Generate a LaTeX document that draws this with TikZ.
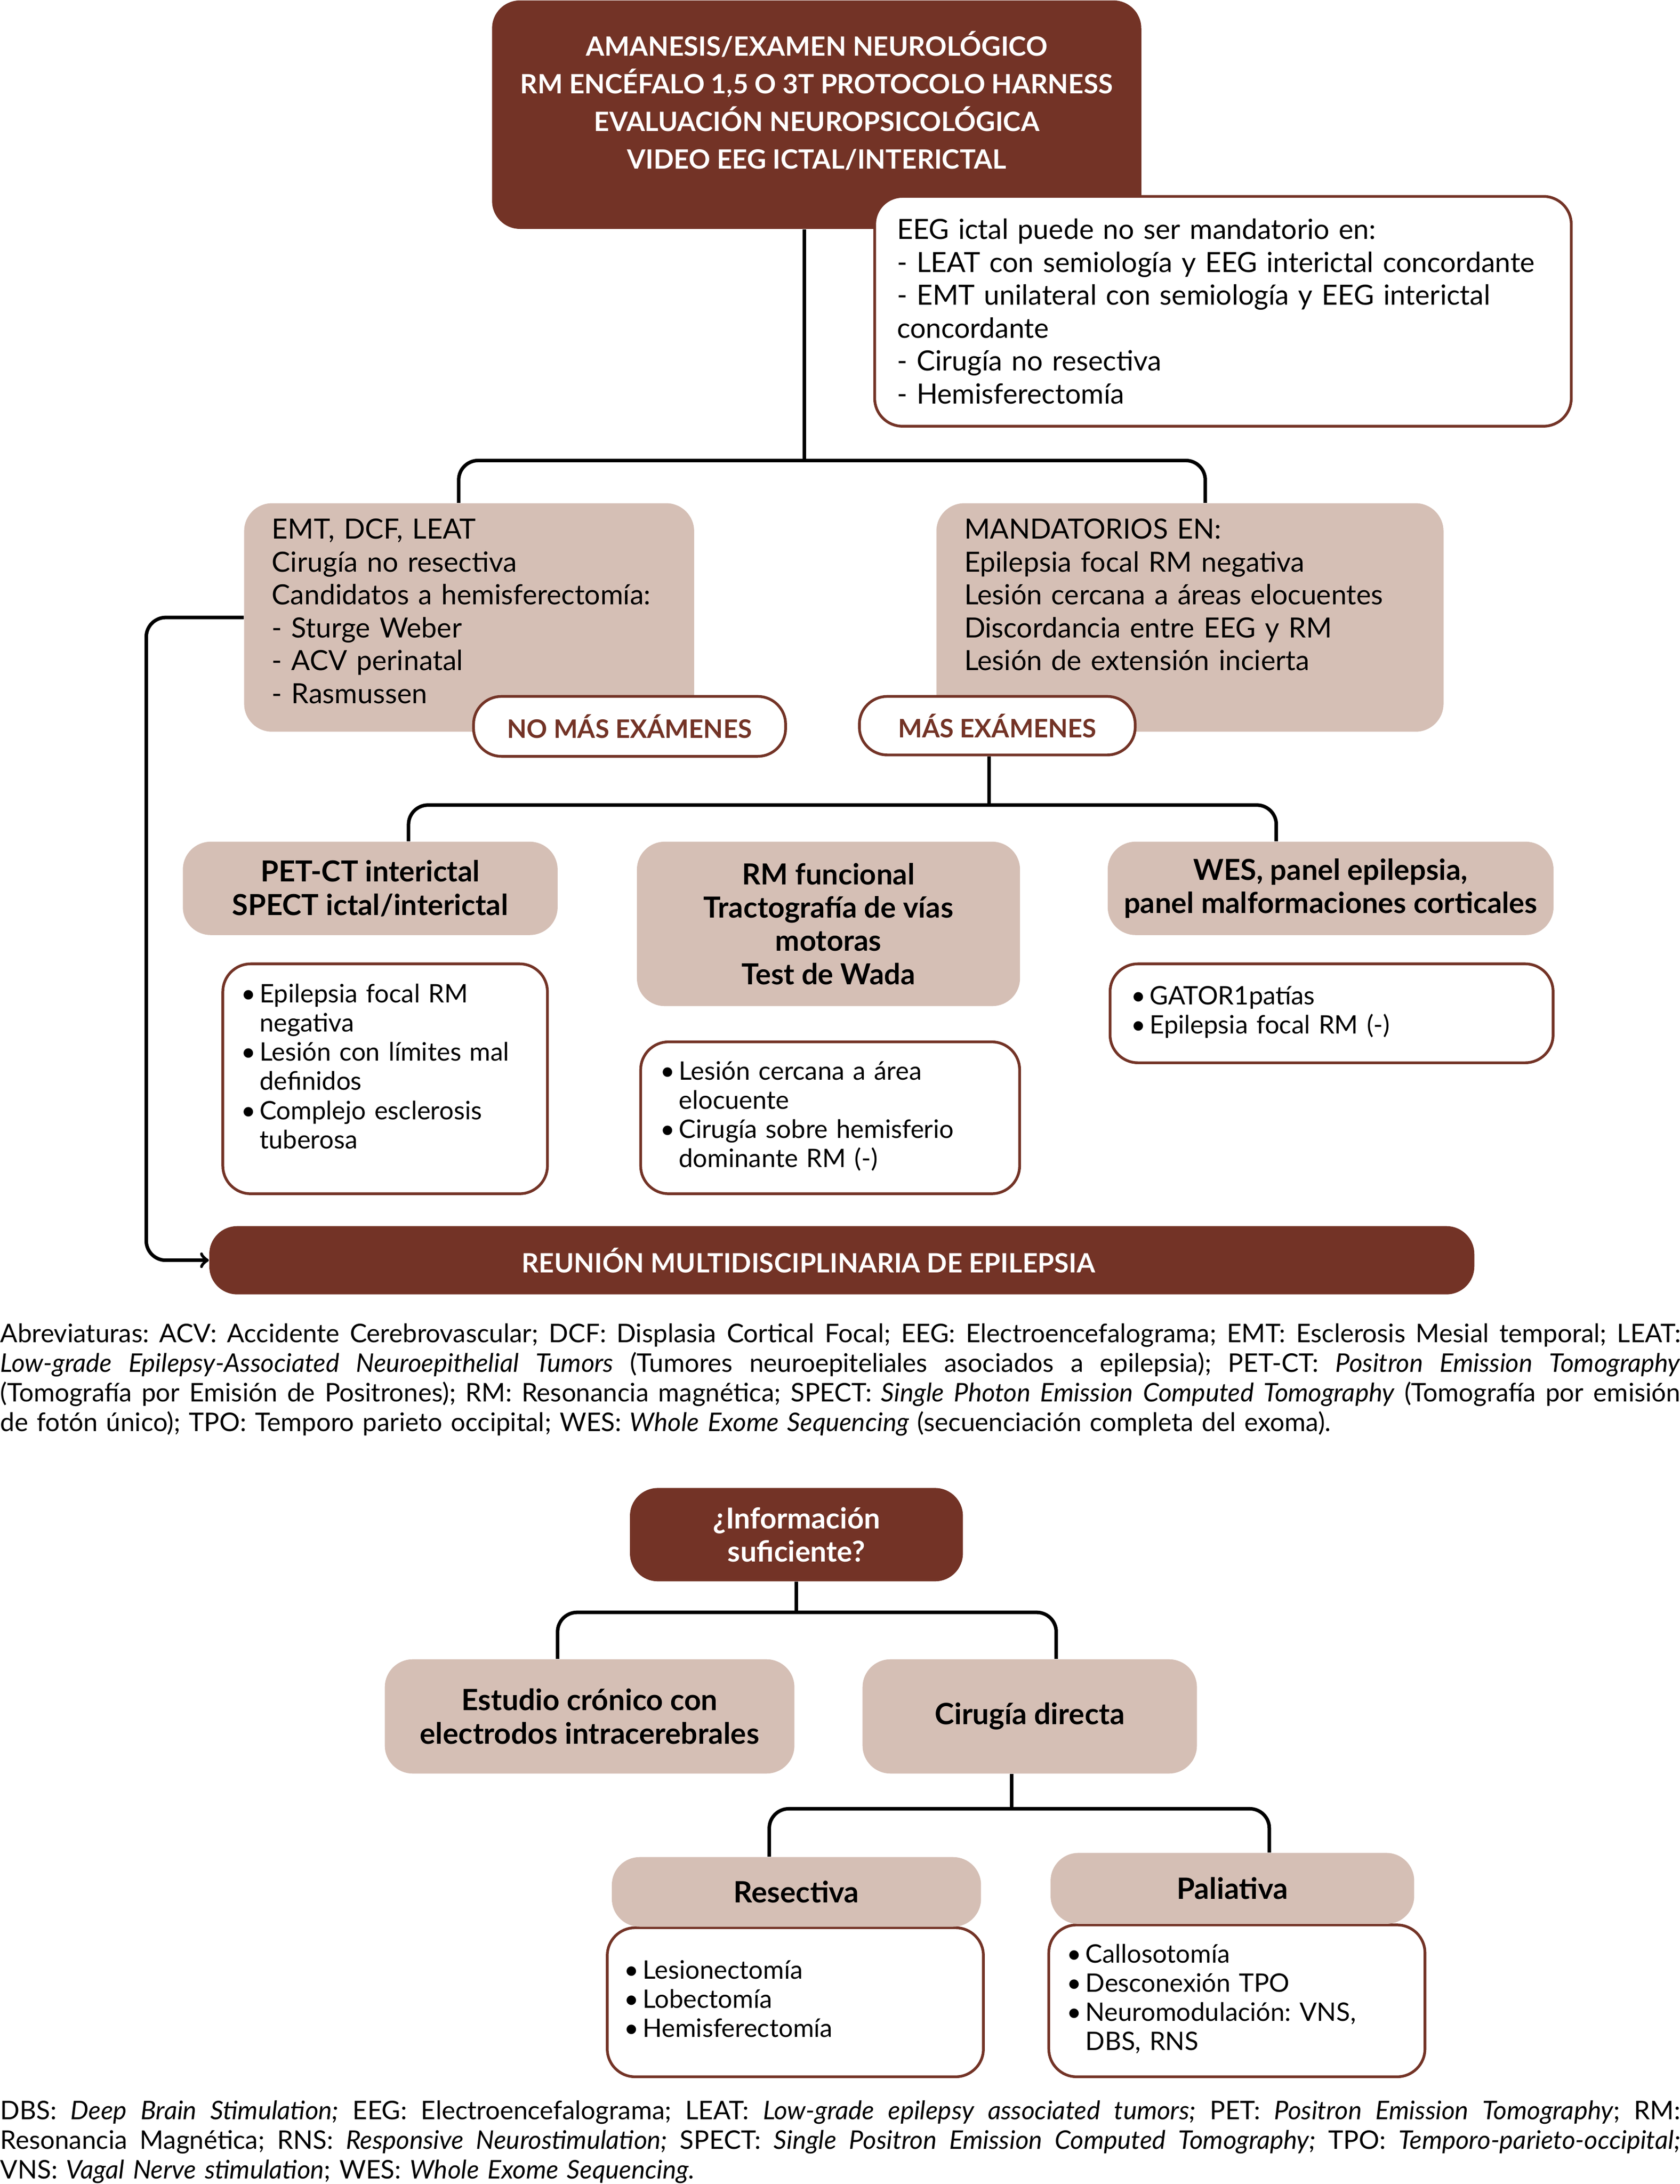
\documentclass[tikz,border=0pt]{standalone}
\usepackage{fontspec}
\setmainfont{Lato}
\usetikzlibrary{arrows,calc}
\definecolor{brick}{RGB}{115,51,38}
\definecolor{sand}{RGB}{213,191,181}
\frenchspacing
\tikzstyle{head}=[fill=brick,text=white,rounded corners=0.5cm,align=center,anchor=north west,font=\bfseries\fontsize{13.6}{19.2}\selectfont]
\tikzstyle{soft}=[fill=sand,rounded corners=0.5cm,anchor=north west,inner xsep=0.5cm,font=\fontsize{14.2}{16.8}\selectfont,align=left]
\tikzstyle{softbold}=[fill=sand,rounded corners=0.5cm,anchor=north west,font=\bfseries\fontsize{14.8}{17}\selectfont,align=center]
\tikzstyle{note}=[fill=white,draw=brick,line width=1.4pt,rounded corners=0.5cm,anchor=north west,inner xsep=0.4cm,align=left]
\tikzstyle{tag}=[note,text=brick,align=center,font=\bfseries\fontsize{13}{15}\selectfont]
\tikzstyle{plain}=[font=\fontsize{14.2}{16.8}\selectfont]
\tikzstyle{small}=[font=\fontsize{13}{14.9}\selectfont]
\tikzstyle{caption}=[anchor=north west,inner sep=0pt,text width=30.15cm,align=left,font=\fontsize{13.1}{15.1}\selectfont]
\tikzstyle{link}=[line width=1.8pt,rounded corners=0.35cm]
\tikzstyle{arrow}=[link,->]
\newcommand{\fillline}[1]{\makebox[30.15cm][s]{\spaceskip=\fontdimen2\font plus 0.8\fontdimen2\font minus 0.15\fontdimen2\font\relax #1}}
\newcommand{\bul}{\textbullet}
\begin{document}
\begin{tikzpicture}[x=0.025cm,y=-0.025cm]
\useasboundingbox (0,0) rectangle (1206,1568);
\node (top) [head, minimum width=11.65cm, minimum height=4.1cm, text depth=0.53cm] at (353,0)
  {AMANESIS/EXAMEN NEUROLÓGICO\\RM ENCÉFALO 1,5 O 3T PROTOCOLO HARNESS\\EVALUACIÓN NEUROPSICOLÓGICA\\VIDEO EEG ICTAL/INTERICTAL};
\node (eeg) [note, plain, minimum width=12.5cm, minimum height=4.125cm, text width=11.7cm] at (627,140)
  {EEG ictal puede no ser mandatorio en:\\- LEAT con semiología y EEG interictal concordante\\- EMT unilateral con semiología y EEG interictal\\concordante\\- Cirugía no resectiva\\- Hemisferectomía};
\node (emt) [soft, minimum width=8.075cm, minimum height=4.1cm, text width=7.075cm, text depth=3.18cm] at (175,361)
  {EMT, DCF, LEAT\\Cirugía no resectiva\\Candidatos a hemisferectomía:\\- Sturge Weber\\- ACV perinatal\\- Rasmussen};
\node (mand) [soft, minimum width=9.1cm, minimum height=4.1cm, text width=8.1cm, text depth=3.18cm] at (672,361)
  {MANDATORIOS EN:\\Epilepsia focal RM negativa\\Lesión cercana a áreas elocuentes\\Discordancia entre EEG y RM\\Lesión de extensión incierta};
\node (nomore) [tag, minimum width=5.6cm, minimum height=1.075cm] at (339,499) {NO MÁS EXÁMENES};
\node (more) [tag, minimum width=4.95cm, minimum height=1.05cm] at (616,499) {MÁS EXÁMENES};
\node (pet) [softbold, minimum width=6.725cm, minimum height=1.675cm] at (131,604) {PET-CT interictal\\SPECT ictal/interictal};
\node (rmf) [softbold, minimum width=6.875cm, minimum height=2.95cm] at (457,604) {RM funcional\\Tractografía de vías\\motoras\\Test de Wada};
\node (wes) [softbold, minimum width=8cm, minimum height=1.675cm] at (795,604) {WES, panel epilepsia,\\panel malformaciones corticales};
\node (petlist) [note, small, inner xsep=0.325cm, minimum width=5.825cm, minimum height=4.125cm, text width=5.175cm, text depth=3.1cm] at (159,691)
  {\begin{tabular}[t]{@{}l@{\hspace{2pt}}l@{}}\bul & Epilepsia focal RM\\ & negativa\\ \bul & Lesión con límites mal\\ & definidos\\ \bul & Complejo esclerosis\\ & tuberosa\end{tabular}};
\node (rmflist) [note, small, inner xsep=0.35cm, minimum width=6.8cm, minimum height=2.725cm, text width=6.1cm] at (459,747)
  {\begin{tabular}{@{}l@{\hspace{2pt}}l@{}}\bul & Lesión cercana a área\\ & elocuente\\ \bul & Cirugía sobre hemisferio\\ & dominante RM (-)\end{tabular}};
\node (weslist) [note, small, inner xsep=0.375cm, minimum width=7.95cm, minimum height=1.775cm, text width=7.2cm] at (796,691)
  {\begin{tabular}{@{}l@{\hspace{2pt}}l@{}}\bul & GATOR1patías\\ \bul & Epilepsia focal RM (-)\end{tabular}};
\node (meet) [head, minimum width=22.7cm, minimum height=1.225cm] at (150,880) {\hspace*{-1.2cm}REUNIÓN MULTIDISCIPLINARIA DE EPILEPSIA};
\node (abbr) [caption] at (0,950)
  {\fillline{Abreviaturas: ACV: Accidente Cerebrovascular; DCF: Displasia Cortical Focal; EEG: Electroencefalograma; EMT: Esclerosis Mesial temporal; LEAT:}\\
   \fillline{\textit{Low-grade Epilepsy-Associated Neuroepithelial Tumors} (Tumores neuroepiteliales asociados a epilepsia); PET-CT: \textit{Positron Emission Tomography}}\\
   \fillline{(Tomografía por Emisión de Positrones); RM: Resonancia magnética; SPECT: \textit{Single Photon Emission Computed Tomography} (Tomografía por emisión}\\
   de fotón único); TPO: Temporo parieto occipital; WES: \textit{Whole Exome Sequencing} (secuenciación completa del exoma).};
\node (info) [head, font=\bfseries\fontsize{14.7}{17}\selectfont, minimum width=5.975cm, minimum height=1.675cm] at (452,1068) {¿Información\\suficiente?};
\node (chron) [softbold, font=\bfseries\fontsize{15}{17}\selectfont, minimum width=7.35cm, minimum height=2.05cm] at (276,1191) {Estudio crónico con\\electrodos intracerebrales};
\node (direct) [softbold, font=\bfseries\fontsize{15}{17}\selectfont, minimum width=6cm, minimum height=2.05cm] at (619,1191) {Cirugía directa};
\node (reslist) [note, small, inner xsep=0.3cm, minimum width=6.75cm, minimum height=2.675cm, text width=6.15cm] at (435,1383)
  {\begin{tabular}{@{}l@{\hspace{2pt}}l@{}}\bul & Lesionectomía\\ \bul & Lobectomía\\ \bul & Hemisferectomía\end{tabular}};
\node (pallist) [note, small, inner xsep=0.325cm, minimum width=6.75cm, minimum height=2.725cm, text width=6.1cm] at (752,1381)
  {\begin{tabular}{@{}l@{\hspace{2pt}}l@{}}\bul & Callosotomía\\ \bul & Desconexión TPO\\ \bul & Neuromodulación: VNS,\\ & DBS, RNS\end{tabular}};
\node (res) [softbold, font=\bfseries\fontsize{15}{17}\selectfont, minimum width=6.625cm, minimum height=1.25cm] at (439,1333) {Resectiva};
\node (pal) [softbold, font=\bfseries\fontsize{15}{17}\selectfont, minimum width=6.525cm, minimum height=1.275cm] at (754,1330) {Paliativa};
\node (foot) [caption] at (0,1508)
  {\fillline{DBS: \textit{Deep Brain Stimulation;} EEG: Electroencefalograma; LEAT: \textit{Low-grade epilepsy associated tumors;} PET: \textit{Positron Emission Tomography}; RM:}\\
   \fillline{Resonancia Magnética; RNS: \textit{Responsive Neurostimulation;} SPECT: \textit{Single Positron Emission Computed Tomography;} TPO: \textit{Temporo-parieto-occipital;}}\\
   VNS: \textit{Vagal Nerve stimulation}; WES: \textit{Whole Exome Sequencing.}};
\draw [link] ($(top.south)+(-9,0)$) -- ++(0,166);
\draw [link] ($(emt.north)+(-7.5,0)$) |- ($(top.south)+(-9,166)$) -| ($(mand.north)+(11,0)$);
\draw [arrow] (emt.west) -- ++(-70,0) |- (meet.west);
\draw [link] ($(more.south)+(-6,0)$) -- ++(0,35);
\draw [link] ($(pet.north)+(27.5,0)$) |- ($(more.south)+(-6,35)$) -| ($(wes.north)+(-39,0)$);
\draw [link] (info.south) -- ++(0,22);
\draw [link] ($(chron.north)+(-23,0)$) |- ($(info.south)+(0,22)$) -| ($(direct.north)+(19,0)$);
\draw [link] ($(direct.south)+(-13,0)$) -- ++(0,25);
\draw [link] ($(res.north)+(-19.5,0)$) |- ($(direct.south)+(-13,25)$) -| ($(pal.north)+(26.5,0)$);
\end{tikzpicture}
\end{document}
